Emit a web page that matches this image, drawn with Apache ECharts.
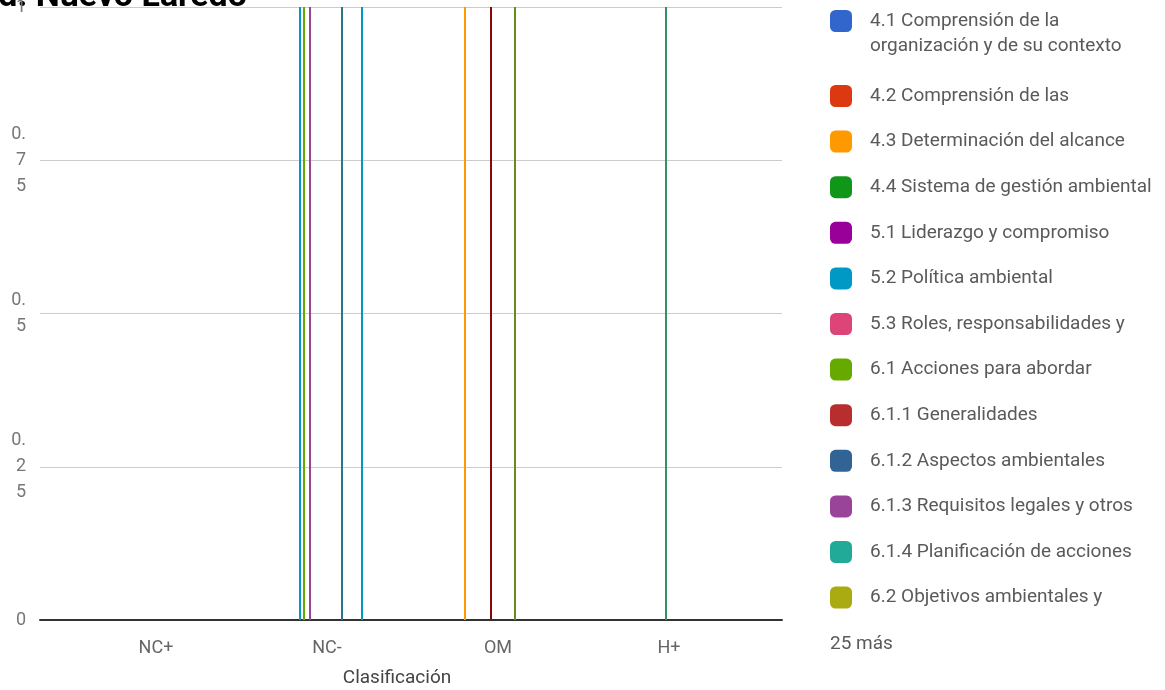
<!DOCTYPE html>
<html>
<head>
<meta charset="utf-8">
<script src="https://cdn.jsdelivr.net/npm/echarts@6/dist/echarts.min.js"></script>
<style>
  html, body { margin: 0; padding: 0; background: #fff; }
  #chart { width: 1165px; height: 690px; }
</style>
</head>
<body>
<div id="chart"></div>
<script>
// ---- Data ----
const categories = ['NC+', 'NC-', 'OM', 'H+'];

const seriesNames = [
  '4.1 Comprensión de la organización y de su contexto',
  '4.2 Comprensión de las',
  '4.3 Determinación del alcance',
  '4.4 Sistema de gestión ambiental',
  '5.1 Liderazgo y compromiso',
  '5.2 Política ambiental',
  '5.3 Roles, responsabilidades y',
  '6.1 Acciones para abordar',
  '6.1.1 Generalidades',
  '6.1.2 Aspectos ambientales',
  '6.1.3 Requisitos legales y otros',
  '6.1.4 Planificación de acciones',
  '6.2 Objetivos ambientales y',
  '6.2.1 Objetivos ambientales',
  '6.2.2 Planificación de acciones para lograr los objetivos',
  '7.1 Recursos',
  '7.2 Competencia',
  '7.3 Toma de conciencia',
  '7.4 Comunicación',
  '7.4.1 Generalidades',
  '7.4.2 Comunicación interna',
  '7.4.3 Comunicación externa',
  '7.5 Información documentada',
  '7.5.1 Generalidades',
  '7.5.2 Creación y actualización',
  '7.5.3 Control de la información documentada',
  '8.1 Planificación y control operacional',
  '8.2 Preparación y respuesta ante emergencias',
  '9.1 Seguimiento, medición, análisis y evaluación',
  '9.1.1 Generalidades',
  '9.1.2 Evaluación del cumplimiento',
  '9.2 Auditoría interna',
  '9.2.1 Generalidades',
  '9.2.2 Programa de auditoría interna',
  '9.3 Revisión por la dirección',
  '10.1 Generalidades',
  '10.2 No conformidad y acción correctiva',
  '10.3 Mejora continua'
];

// values per category, one entry per series (same order as seriesNames)
const valuesNCplus  = [0,0,0,0,0,0,0,0,0,0, 0,0,0,0,0,0,0,0,0,0, 0,0,0,0,0,0,0,0,0,0, 0,0,0,0,0,0,0,0];
const valuesNCminus = [0,0,0,0,0,1,0,1,0,0, 1,0,0,0,0,0,0,0,0,0, 0,0,0,0,0,0,1,0,0,0, 0,0,0,0,0,0,1,0];
const valuesOM      = [0,0,1,0,0,0,0,0,0,0, 0,0,0,0,0,1,0,0,0,0, 0,0,0,0,0,0,0,1,0,0, 0,0,0,0,0,0,0,0];
const valuesHplus   = [0,0,0,0,0,0,0,0,0,0, 0,0,0,0,0,0,0,1,0,0, 0,0,0,0,0,0,0,0,0,0, 0,0,0,0,0,0,0,0];

const yTicks = [0, 0.25, 0.5, 0.75, 1];
const yTickLabels = ['0', '0.\n2\n5', '0.\n5', '0.\n7\n5', '1'];

const palette = ['#3366cc','#dc3912','#ff9900','#109618','#990099','#0099c6','#dd4477','#66aa00',
  '#b82e2e','#316395','#994499','#22aa99','#aaaa11','#6633cc','#e67300','#8b0707','#651067',
  '#329262','#5574a6','#3b3eac','#b77322','#16d620','#b91383','#f4359e','#9c5935','#a9c413',
  '#2a778d','#668d1c','#bea413','#0c5922','#743411'];

const legendShown = 13;
const moreText = '25 más';
const titleText = 'Cd. Nuevo Laredo';

// ---- Chart ----
const chart = echarts.init(document.getElementById('chart'), null, { renderer: 'canvas' });

const series = seriesNames.map((name, i) => ({
  name: name,
  type: 'bar',
  xAxisIndex: 1,
  yAxisIndex: 1,
  barWidth: 2,
  barGap: '0%',
  data: [valuesNCplus[i], valuesNCminus[i], valuesOM[i], valuesHplus[i]],
  itemStyle: { color: palette[i % palette.length] },
  emphasis: { disabled: true }
}));

const font = 'Roboto, "Noto Sans", sans-serif';
const legendText = { fontSize: 19, lineHeight: 24, color: '#5a5a5a', fontFamily: font, padding: [0, 0, 0, 13] };

const option = {
  animation: false,
  color: palette,
  textStyle: { fontFamily: font },
  grid: [
    { left: 40, right: 383, top: 7, bottom: 70, outerBoundsMode: 'none', containLabel: false },
    { left: 70.5, right: 410.5, top: 7, bottom: 70, outerBoundsMode: 'none', containLabel: false }
  ],
  xAxis: [
    {
      type: 'value', gridIndex: 0, min: 0, max: 1,
      axisLine: { show: true, lineStyle: { color: '#333', width: 2 } },
      axisTick: { show: false }, axisLabel: { show: false }, splitLine: { show: false },
      name: 'Clasificación', nameLocation: 'middle', nameGap: 49,
      nameTextStyle: { fontSize: 19, color: '#444', fontFamily: font, padding: [0, 28, 0, 0] }
    },
    {
      type: 'category', gridIndex: 1, data: categories,
      axisLine: { show: false }, axisTick: { show: false },
      axisLabel: { fontSize: 18, color: '#666', margin: 19, fontFamily: font }
    }
  ],
  yAxis: [
    {
      type: 'value', gridIndex: 0, min: 0, max: 1, interval: 0.25,
      axisLine: { show: false }, axisTick: { show: false },
      splitLine: { lineStyle: { color: '#cccccc', width: 1 } },
      axisLabel: {
        fontSize: 18, color: '#777', margin: 14, lineHeight: 26, fontFamily: font,
        formatter: v => { const k = yTicks.indexOf(v); return k >= 0 ? yTickLabels[k] : ''; }
      }
    },
    {
      type: 'value', gridIndex: 1, min: 0, max: 1, interval: 0.25, show: false
    }
  ],
  legend: [
    {
      data: [seriesNames[0]],
      orient: 'vertical', left: 825, top: 4,
      icon: 'roundRect', itemWidth: 22, itemHeight: 22,
      selectedMode: false,
      formatter: () => '4.1 Comprensión de la',
      textStyle: legendText
    },
    {
      data: seriesNames.slice(1, legendShown),
      orient: 'vertical', left: 825, top: 79, itemGap: 21.6,
      icon: 'roundRect', itemWidth: 22, itemHeight: 22,
      selectedMode: false,
      textStyle: legendText
    }
  ],
  graphic: [
    {
      type: 'text', left: 870, top: 34,
      style: { text: 'organización y de su contexto', fontSize: 19, lineHeight: 24, fill: '#5a5a5a', fontFamily: font }
    },
    {
      type: 'text', left: 830, top: 632,
      style: { text: moreText, fontSize: 19, lineHeight: 24, fill: '#5a5a5a', fontFamily: font }
    },
    {
      type: 'text', left: -24, top: -20,
      style: { text: titleText, fontSize: 34, fontWeight: 'bold', fill: '#000', fontFamily: font }
    }
  ],
  series: series
};

chart.setOption(option);
</script>
</body>
</html>
